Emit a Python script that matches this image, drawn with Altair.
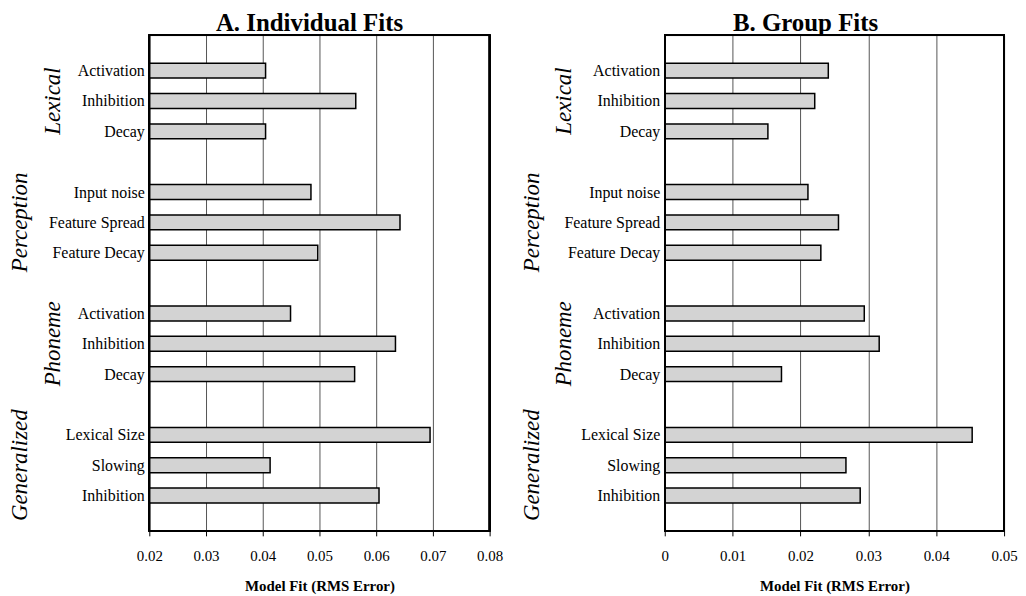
import altair as alt
import pandas as pd

labels = ["Activation", "Inhibition", "Decay",
          "Input noise", "Feature Spread", "Feature Decay",
          "Activation", "Inhibition", "Decay",
          "Lexical Size", "Slowing", "Inhibition"]
groups = ["Lexical"] * 3 + ["Perception"] * 3 + ["Phoneme"] * 3 + ["Generalized"] * 3
individual = [0.0405, 0.0564, 0.0405, 0.0485, 0.0642, 0.0497,
              0.0449, 0.0634, 0.0562, 0.0695, 0.0413, 0.0605]
group_fit = [0.0241, 0.0221, 0.0152, 0.0211, 0.0256, 0.0230,
             0.0294, 0.0316, 0.0172, 0.0453, 0.0267, 0.0288]
group_names = ["Lexical", "Perception", "Phoneme", "Generalized"]
ticks_a = [0.02, 0.03, 0.04, 0.05, 0.06, 0.07, 0.08]
ticks_b = [0, 0.01, 0.02, 0.03, 0.04, 0.05]

# category slots, with an empty slot between groups
slots = [i + i // 3 + 1 for i in range(len(labels))]
df = pd.DataFrame({"label": labels, "group": groups, "slot": slots,
                   "ind": individual, "grp": group_fit})
gdf = pd.DataFrame({"name": group_names,
                    "slot": [4 * k + 2 for k in range(len(group_names))],
                    "far": [k % 2 == 1 for k in range(len(group_names))]})

slot_names = [""] * 16
for s, l in zip(slots, labels):
    slot_names[s] = l
label_expr = "[" + ",".join("'%s'" % n for n in slot_names) + "][datum.value]"

FONT = "Liberation Serif"

y_axis = alt.Axis(values=slots, labelExpr=label_expr, grid=False,
                  ticks=False, domain=False, title=None,
                  labelFont=FONT, labelFontSize=16, labelColor="black",
                  labelPadding=5)


def panel(field, ticks, title, title_dx, near_x, far_x, width):
    xscale = alt.Scale(domain=[ticks[0], ticks[-1]], nice=False, zero=False)
    yscale = alt.Scale(domain=[0, 16], reverse=True, nice=False, zero=False)
    bars = alt.Chart(df).mark_bar(
        fill="#d3d3d3", stroke="black", strokeWidth=1.5, size=15
    ).encode(
        x=alt.X(f"{field}:Q", scale=xscale,
                axis=alt.Axis(values=ticks, format="~g", grid=True, gridColor="#555",
                              gridWidth=1, gridOpacity=1, domain=False,
                              tickColor="black", tickSize=5, tickWidth=1,
                              labelFlush=False,
                              labelFont=FONT, labelFontSize=15, labelColor="black",
                              labelPadding=13, title="Model Fit (RMS Error)",
                              titleFont=FONT, titleFontSize=15, titleFontWeight="bold",
                              titleColor="black", titlePadding=15)),
        x2=alt.datum(ticks[0]),
        y=alt.Y("slot:Q", scale=yscale, axis=y_axis),
    )
    frame = alt.Chart(df).mark_rect(
        fill=None, stroke="black", strokeWidth=1.5
    ).encode(x=alt.value(0), x2=alt.value(width), y=alt.value(0), y2=alt.value(498))
    near = alt.Chart(gdf).transform_filter("!datum.far").mark_text(
        angle=270, font=FONT, fontSize=23, fontStyle="italic",
        baseline="middle", align="center", color="black"
    ).encode(x=alt.value(near_x), y=alt.Y("slot:Q", axis=y_axis), text="name:N")
    far = alt.Chart(gdf).transform_filter("datum.far").mark_text(
        angle=270, font=FONT, fontSize=23, fontStyle="italic",
        baseline="middle", align="center", color="black"
    ).encode(x=alt.value(far_x), y=alt.Y("slot:Q", axis=y_axis), text="name:N")
    return alt.layer(bars, frame, near, far).properties(
        width=width, height=498,
        title=alt.TitleParams(title, font=FONT, fontSize=25, fontWeight="bold",
                              color="black", anchor="middle", dx=title_dx,
                              offset=-1),
    )


left = panel("ind", ticks_a, "A. Individual Fits", -10, -97, -130, 342)
right = panel("grp", ticks_b, "B. Group Fits", -29, -101, -133, 341)

chart = alt.hconcat(left, right, spacing=17).properties(
    padding={"left": 0, "top": 0, "right": 0, "bottom": 0}
).configure_view(stroke="black", strokeWidth=1.5).configure(background="white")

chart.save("out.html", embed_options={"renderer": "svg", "actions": False})
